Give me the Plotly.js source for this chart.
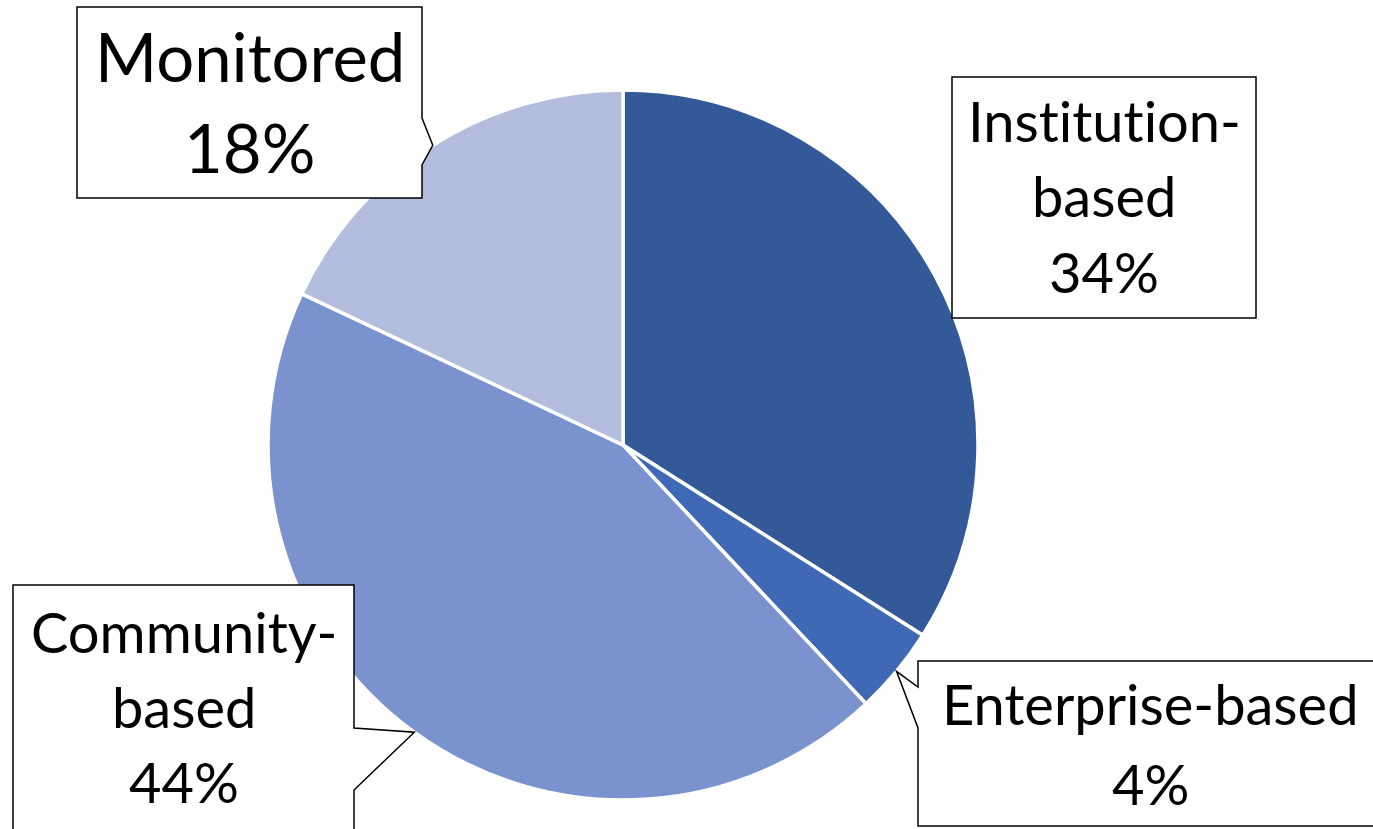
<!DOCTYPE html>
<html><head><meta charset="utf-8">
<script src="https://cdn.plot.ly/plotly-3.0.1.min.js"></script>
<style>html,body{margin:0;padding:0;background:#fff}#chart{width:1373px;height:829px}
#chart text{font-variant-ligatures:none;font-feature-settings:"liga" 0,"clig" 0;}</style>
</head><body><div id="chart"></div>
<script>
// ---- data ----
const categories = ["Institution-based", "Enterprise-based", "Community-based", "Monitored"];
const labelLines = [["Institution-", "based"], ["Enterprise-based"], ["Community-", "based"], ["Monitored"]];
const shares = [34, 4, 44, 18];
const colors = ["#335999", "#3F69B4", "#7A92CE", "#B3BEDF"];

// ---- layout constants (pixels) ----
const W = 1373, H = 829;
const cx = 623, cy = 445, R = 355;
const boxes = [
  {x0: 952, y0: 77,  x1: 1256, y1: 318, size: 56, base: 142, ls: 75.5, pointer: null},
  {x0: 918, y0: 661, x1: 1382, y1: 826, size: 56, base: 725, ls: 80,   pointer: {edge: "left",  a: 687, b: 728}},
  {x0: 13,  y0: 585, x1: 354,  y1: 831, size: 56, base: 653, ls: 75,   pointer: {edge: "right", a: 728, b: 790}},
  {x0: 77,  y0: 7,   x1: 422,  y1: 198, size: 67, base: 82,  ls: 91,   pointer: {edge: "right", a: 118, b: 165}}
];

const X = px => px / W;
const Y = py => 1 - py / H;

const total = shares.reduce((a, b) => a + b, 0);
let cum = 0;
const tips = shares.map(v => {
  const mid = (cum + v / 2) / total * 2 * Math.PI; // clockwise from 12 o'clock
  cum += v;
  return [cx + R * Math.sin(mid), cy - R * Math.cos(mid)];
});

const shapes = [];
const annotations = [];
boxes.forEach((b, i) => {
  const t = tips[i];
  const pts = [[b.x0, b.y0], [b.x1, b.y0]];
  if (b.pointer && b.pointer.edge === "right") pts.push([b.x1, b.pointer.a], t, [b.x1, b.pointer.b]);
  pts.push([b.x1, b.y1], [b.x0, b.y1]);
  if (b.pointer && b.pointer.edge === "left") pts.push([b.x0, b.pointer.b], t, [b.x0, b.pointer.a]);
  const path = pts.map((p, k) => (k ? "L" : "M") + X(p[0]).toFixed(5) + "," + Y(p[1]).toFixed(5)).join(" ") + " Z";
  shapes.push({type: "path", xref: "paper", yref: "paper", path: path, layer: "above",
    fillcolor: "#ffffff", line: {color: "#000000", width: 1.5}});
  const lines = labelLines[i].concat([shares[i] + "%"]);
  lines.forEach((txt, j) => {
    const baseline = b.base + j * b.ls;
    annotations.push({
      xref: "paper", yref: "paper",
      x: X((b.x0 + b.x1) / 2), y: Y(baseline - 0.387 * b.size),
      xanchor: "center", yanchor: "middle", align: "center", showarrow: false,
      text: txt,
      font: {family: "Lato, 'Open Sans', sans-serif", size: b.size, color: "#000000"}
    });
  });
});

const trace = {
  type: "pie",
  labels: categories,
  values: shares,
  sort: false,
  direction: "clockwise",
  rotation: 0,
  textinfo: "none",
  hoverinfo: "skip",
  marker: {colors: colors, line: {color: "#ffffff", width: 3.5}},
  domain: {x: [X(cx - R), X(cx + R)], y: [Y(cy + R), Y(cy - R)]}
};

const layout = {
  width: W, height: H,
  margin: {l: 0, r: 0, t: 0, b: 0},
  paper_bgcolor: "#ffffff",
  showlegend: false,
  shapes: shapes,
  annotations: annotations
};

Plotly.newPlot("chart", [trace], layout, {staticPlot: true, displayModeBar: false});
</script>
</body></html>
